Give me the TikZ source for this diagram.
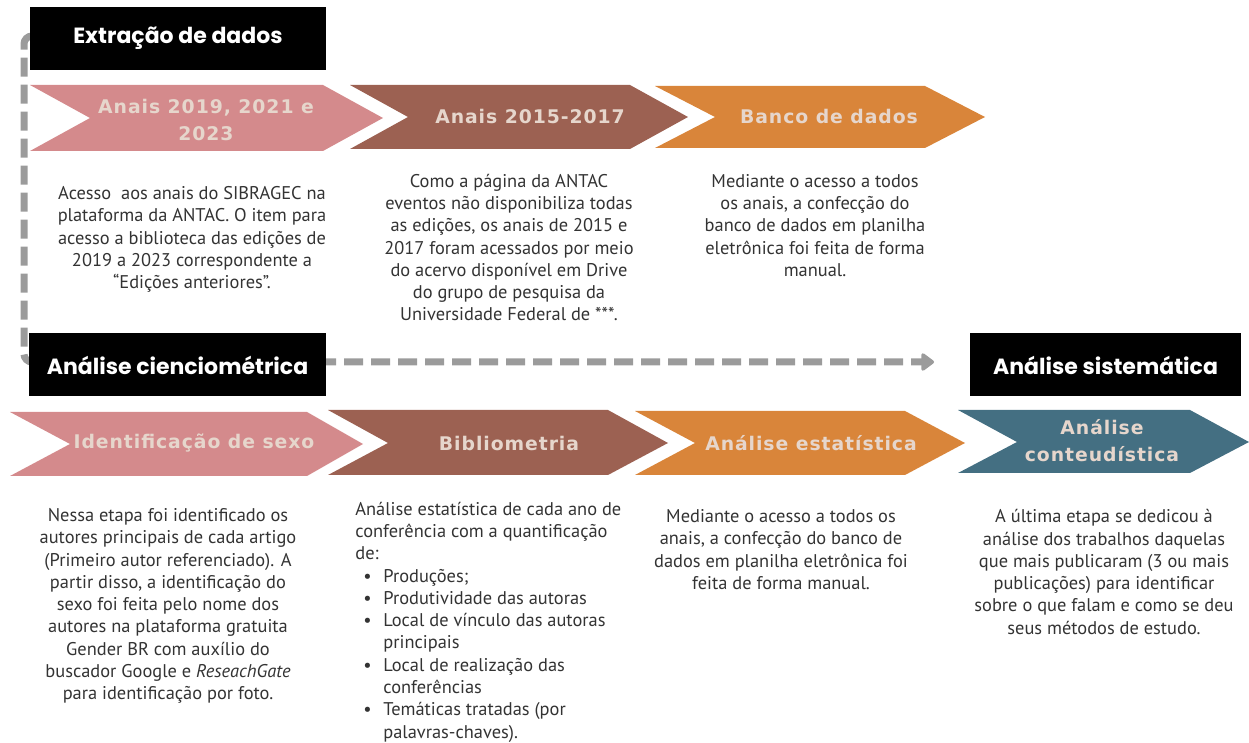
\documentclass[tikz,border=0pt]{standalone}
\usepackage{fontspec}
\setmainfont{PT Sans}
\newfontfamily\headfont{Poppins}
\newfontfamily\tagfont{DejaVu Sans}[LetterSpace=5]
\usetikzlibrary{arrows.meta}

\definecolor{stepPink}{HTML}{D48A8C}
\definecolor{stepBrown}{HTML}{9C6152}
\definecolor{stepOrange}{HTML}{D9853A}
\definecolor{stepTeal}{HTML}{446F82}
\definecolor{tagBeige}{HTML}{E6D6CC}
\definecolor{bodyGray}{HTML}{333333}
\definecolor{flowGray}{HTML}{9B9B9B}

\begin{document}
\begin{tikzpicture}[x=0.5pt,y=-0.5pt,
  titlebox/.style={fill=black,text=white,font=\headfont\bfseries\fontsize{11}{13}\selectfont,minimum height=31.5pt,inner sep=0pt},
  tagtext/.style={text=tagBeige,font=\tagfont\bfseries\fontsize{9.4}{13.5}\selectfont,align=center,inner sep=0pt},
  bodytext/.style={text=bodyGray,font=\fontsize{9.2}{11.15}\selectfont,align=center,inner sep=0pt},
  flowline/.style={draw=flowGray,line width=3.5pt,dash pattern=on 9.5pt off 4pt,rounded corners=4pt}]
\useasboundingbox (0,0) rectangle (1249,743);

% Dashed flow line (goes behind the title boxes)
\coordinate (flowStart) at (60,36);
\coordinate (bendTop) at (24,36);
\coordinate (bendLow) at (24,362);
\coordinate (flowEnd) at (934,362);
\draw[flowline,-{Triangle[round,width=10pt,length=7pt]}] (flowStart) -- (bendTop) -- (bendLow) -- (flowEnd);

% Title boxes
\node[titlebox,minimum width=148pt] (extr) at (178,38.5) {Extração de dados};
\node[titlebox,minimum width=148.5pt] (ciencio) at (177.5,365) {Análise cienciométrica};
\node[titlebox,minimum width=135.5pt] (sistem) at (1105.5,365) {Análise sistemática};

% Chevrons, extraction row
\fill[stepPink] (30,85) -- (323,85) -- (383,118) -- (323,151) -- (30,151) -- (90,118) -- cycle;
\fill[stepBrown] (350,85) -- (630,85) -- (688,117) -- (630,149) -- (350,149) -- (408,117) -- cycle;
\fill[stepOrange] (655,86) -- (925,86) -- (985,117) -- (925,148) -- (655,148) -- (715,117) -- cycle;

\node[tagtext] (anais19) at (206,119.5) {Anais 2019, 2021 e\\2023};
\node[tagtext] (anais15) at (530,116) {Anais 2015-2017};
\node[tagtext] (banco) at (829,116) {Banco de dados};

% Chevrons, analysis row
\fill[stepPink] (10,412) -- (307,412) -- (363,444) -- (307,476) -- (10,476) -- (70,444) -- cycle;
\fill[stepBrown] (328,410) -- (608,410) -- (668,443) -- (608,475) -- (328,475) -- (388,443) -- cycle;
\fill[stepOrange] (635,411) -- (905,411) -- (965,443) -- (905,475) -- (635,475) -- (695,443) -- cycle;
\fill[stepTeal] (958,410) -- (1190,410) -- (1249,442) -- (1190,473) -- (958,473) -- (1017,442) -- cycle;

\node[tagtext] (sexo) at (194,443) {Identificação de sexo};
\node[tagtext] (biblio) at (509,443) {Bibliometria};
\node[tagtext] (estat) at (811,443) {Análise estatística};
\node[tagtext] (conteud) at (1102,440.5) {Análise\\conteudística};

% Texts, extraction row
\node[bodytext] (txtAnais19) at (192,239.5) {Acesso\ \ aos anais do SIBRAGEC na\\plataforma da ANTAC. O item para\\acesso a biblioteca das edições de\\2019 a 2023 correspondente a\\“Edições anteriores”.};
\node[bodytext] (txtAnais15) at (509,247.5) {Como a página da ANTAC\\eventos não disponibiliza todas\\as edições, os anais de 2015 e\\2017 foram acessados por meio\\do acervo disponível em Drive\\do grupo de pesquisa da\\Universidade Federal de ***.};
\node[bodytext] (txtBanco) at (815,225.5) {Mediante o acesso a todos\\os anais, a confecção do\\banco de dados em planilha\\eletrônica foi feita de forma\\manual.};

% Texts, analysis row
\node[bodytext] (txtSexo) at (168,606) {Nessa etapa foi identificado os\\autores principais de cada artigo\\(Primeiro autor referenciado). A\\partir disso, a identificação do\\sexo foi feita pelo nome dos\\autores na plataforma gratuita\\Gender BR com auxílio do\\buscador Google e \textit{ReseachGate}\\para identificação por foto.};
\node[bodytext,align=left,anchor=west] (txtBiblio) at (355,622) {Análise estatística de cada ano de\\conferência com a quantificação\\de:\\
\hspace*{4pt}\makebox[10pt][l]{\textbullet}Produções;\\
\hspace*{4pt}\makebox[10pt][l]{\textbullet}Produtividade das autoras\\
\hspace*{4pt}\makebox[10pt][l]{\textbullet}Local de vínculo das autoras\\
\hspace*{14pt}principais\\
\hspace*{4pt}\makebox[10pt][l]{\textbullet}Local de realização das\\
\hspace*{14pt}conferências\\
\hspace*{4pt}\makebox[10pt][l]{\textbullet}Temáticas tratadas (por\\
\hspace*{14pt}palavras-chaves).};
\node[bodytext] (txtEstat) at (781,549.5) {Mediante o acesso a todos os\\anais, a confecção do banco de\\dados em planilha eletrônica foi\\feita de forma manual.};
\node[bodytext] (txtConteud) at (1104,572) {A última etapa se dedicou à\\análise dos trabalhos daquelas\\que mais publicaram (3 ou mais\\publicações) para identificar\\sobre o que falam e como se deu\\seus métodos de estudo.};

\end{tikzpicture}
\end{document}
